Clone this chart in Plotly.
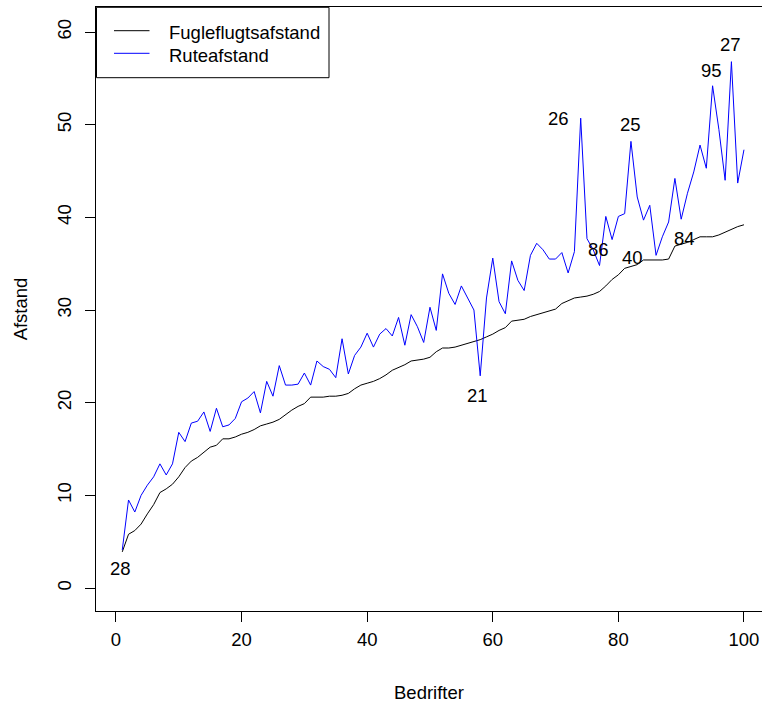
import plotly.graph_objects as go

# Company index (x) and the two distance measures per company
bedrift = list(range(1, 101))

fugleflugt = [
    3.9, 5.8, 6.2, 6.9, 8.0, 9.0, 10.3, 10.7, 11.2, 12.0,
    13.0, 13.7, 14.1, 14.6, 15.2, 15.4, 16.1, 16.1, 16.3, 16.6,
    16.8, 17.1, 17.5, 17.7, 17.9, 18.2, 18.7, 19.2, 19.6, 19.9,
    20.6, 20.6, 20.6, 20.7, 20.7, 20.8, 21.0, 21.5, 21.9, 22.1,
    22.3, 22.6, 23.0, 23.5, 23.8, 24.1, 24.5, 24.6, 24.7, 24.9,
    25.5, 25.9, 25.9, 26.0, 26.2, 26.4, 26.6, 26.8, 27.1, 27.4,
    27.8, 28.1, 28.8, 28.9, 29.0, 29.3, 29.5, 29.7, 29.9, 30.1,
    30.7, 31.0, 31.3, 31.4, 31.5, 31.7, 32.0, 32.6, 33.3, 33.8,
    34.5, 34.7, 34.9, 35.4, 35.4, 35.4, 35.4, 35.5, 36.9, 37.1,
    37.3, 37.6, 37.9, 37.9, 37.9, 38.1, 38.4, 38.7, 39.0, 39.2,
]

rute = [
    4.1, 9.5, 8.2, 10.0, 11.1, 12.0, 13.4, 12.2, 13.4, 16.8,
    15.8, 17.8, 18.0, 19.0, 16.9, 19.4, 17.4, 17.6, 18.3, 20.1,
    20.5, 21.2, 18.9, 22.3, 20.7, 24.0, 21.9, 21.9, 22.0, 23.2,
    21.9, 24.5, 23.9, 23.6, 22.7, 26.9, 23.1, 25.1, 26.0, 27.5,
    26.0, 27.4, 28.0, 27.2, 29.2, 26.2, 29.5, 28.2, 26.5, 30.3,
    27.8, 33.9, 31.8, 30.6, 32.6, 31.3, 30.0, 22.9, 31.3, 35.6,
    30.9, 29.6, 35.3, 33.2, 32.1, 35.9, 37.2, 36.5, 35.5, 35.5,
    36.2, 34.0, 36.3, 50.7, 37.7, 36.5, 34.8, 40.1, 37.6, 40.1,
    40.4, 48.2, 42.2, 39.7, 41.3, 35.9, 37.9, 39.5, 44.2, 39.8,
    42.6, 44.9, 47.8, 45.3, 54.2, 49.5, 44.0, 56.8, 43.7, 47.3,
]

# Identified observations written next to the curves
label_text = ["28", "21", "26", "86", "25", "40", "84", "95", "27"]
label_x = [0.8, 57.6, 70.4, 76.9, 82.0, 82.3, 90.45, 94.9, 97.9]
label_y = [2.16, 20.8, 50.7, 36.5, 50.05, 35.7, 37.76, 55.9, 58.7]

x_ticks = [0, 20, 40, 60, 80, 100]
y_ticks = [0, 10, 20, 30, 40, 50, 60]

series_names = ["Fugleflugtsafstand", "Ruteafstand"]
series_colors = ["black", "blue"]

FONT_FAMILY = "Liberation Sans, Arial, sans-serif"
FS = 18.5
FONT = dict(family=FONT_FAMILY, size=FS, color="black")

fig = go.Figure()
for name, ys, col in zip(series_names, [fugleflugt, rute], series_colors):
    fig.add_trace(go.Scatter(
        x=bedrift, y=ys, mode="lines", name=name,
        line=dict(color=col, width=1), showlegend=False,
    ))

for t, x, y in zip(label_text, label_x, label_y):
    fig.add_annotation(x=x, y=y, xref="x", yref="y", text=t, showarrow=False,
                       xanchor="center", yanchor="middle", font=FONT)

# Legend box drawn in the upper-left corner of the plotting region
W_PLOT, H_PLOT, L, T = 666.0, 604.0, 96.0, 7.0


def px(xp):
    return (xp - L) / W_PLOT


def py(yp):
    return 1 - (yp - T) / H_PLOT


fig.add_shape(type="rect", xref="paper", yref="paper",
              x0=px(96.5), x1=px(329), y0=py(77.7), y1=py(7.3),
              line=dict(color="black", width=1), fillcolor="white", layer="above")
for name, col, yy, ty in zip(series_names, series_colors, [30.7, 53.3], [32.0, 55.5]):
    fig.add_shape(type="line", xref="paper", yref="paper",
                  x0=px(114), x1=px(149.5), y0=py(yy), y1=py(yy),
                  line=dict(color=col, width=1), layer="above")
    fig.add_annotation(x=px(167), y=py(ty), xref="paper", yref="paper",
                       text=name, showarrow=False, xanchor="left", yanchor="middle",
                       font=FONT)

fig.update_layout(
    width=762, height=704,
    margin=dict(l=96, r=0, t=7, b=93),
    plot_bgcolor="white", paper_bgcolor="white",
    font=FONT,
)
fig.update_xaxes(
    range=[-3.18, 102.87], tickvals=x_ticks, ticks="outside", ticklen=10,
    tickcolor="black", tickwidth=1, showline=True, linecolor="black", linewidth=1,
    mirror=True, showgrid=False, zeroline=False, tickfont=FONT,
    ticklabelstandoff=2,
    title=dict(text="Bedrifter", font=FONT, standoff=36),
)
fig.update_yaxes(
    range=[-2.48, 62.7], tickvals=y_ticks, ticks="outside", ticklen=10,
    tickcolor="black", tickwidth=1, showline=True, linecolor="black", linewidth=1,
    mirror=False, showgrid=False, zeroline=False, tickangle=-90, tickfont=FONT,
    ticklabelstandoff=7,
    title=dict(text="Afstand", font=FONT, standoff=21),
)

fig.write_html("out.html")
